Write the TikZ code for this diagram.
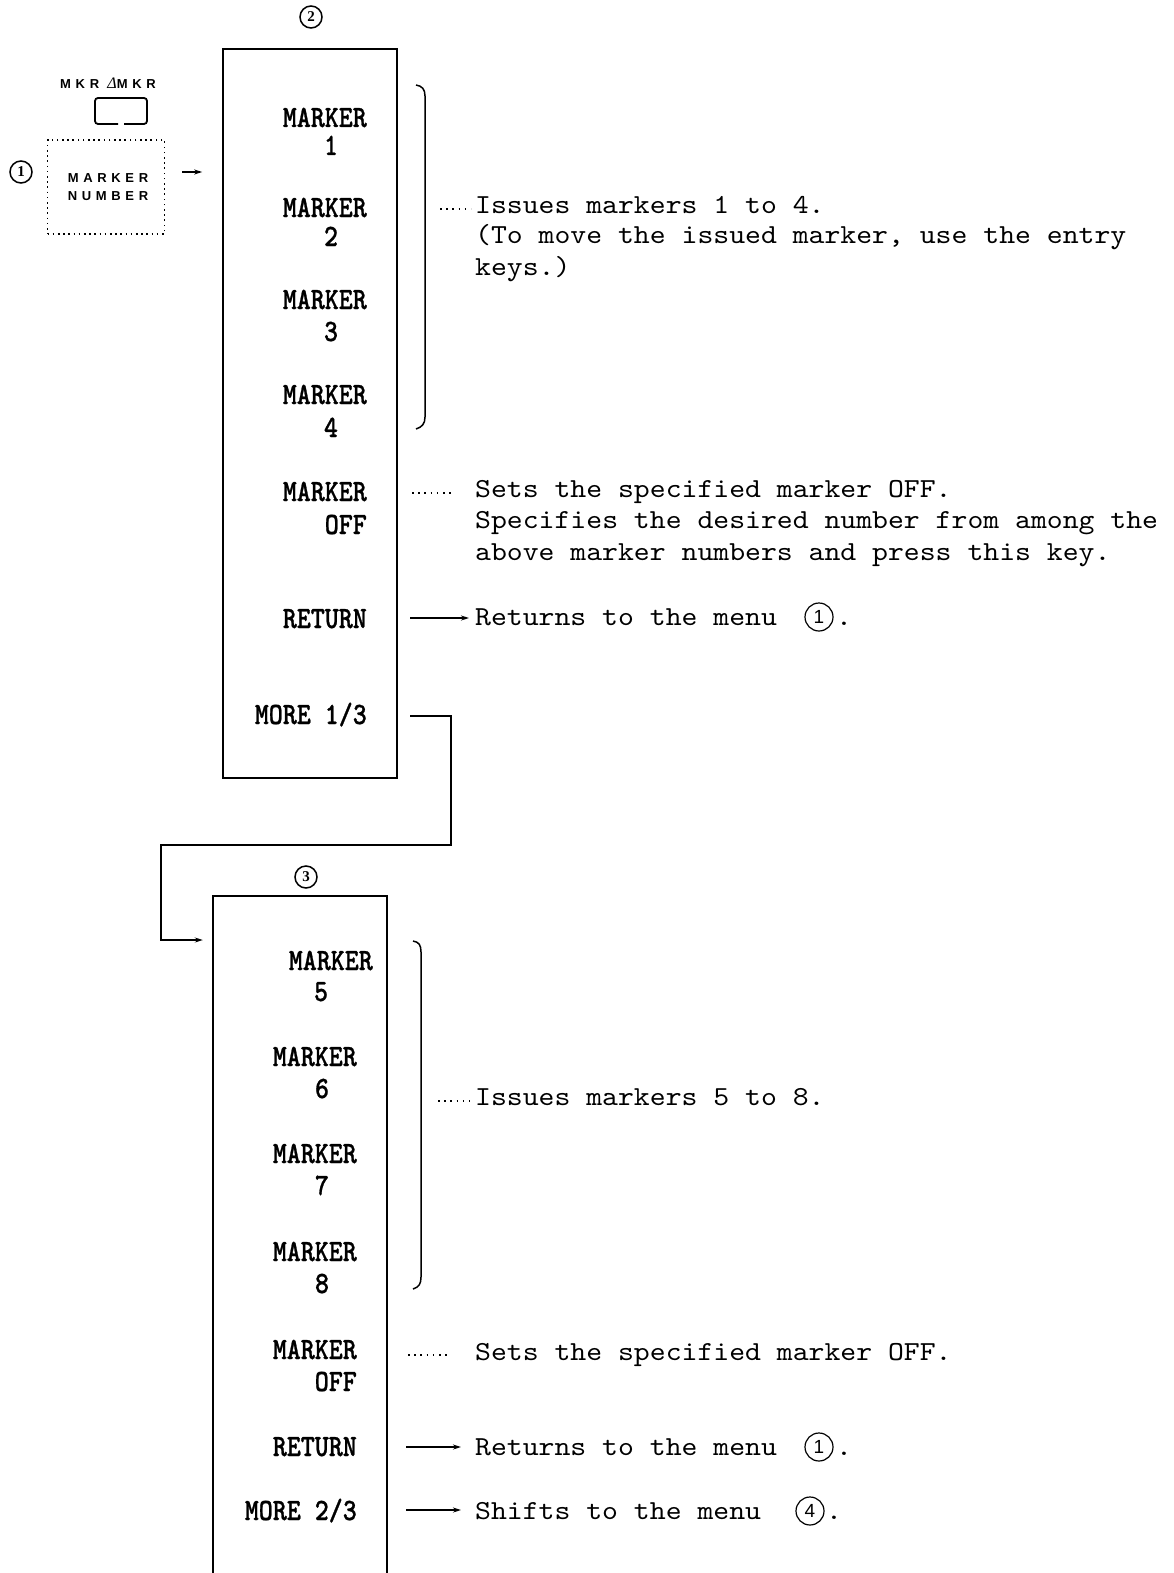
\documentclass[tikz,border=0pt]{standalone}
\usepackage{fontspec}
\usetikzlibrary{arrows.meta}
\newfontfamily\monofont{lmmono10-regular.otf}[FakeStretch=1.1]
\newfontfamily\keyfont{lmmonolt10-bold.otf}[FakeStretch=0.86,FakeBold=0.8]
\newfontfamily\tagfont{Liberation Sans}[LetterSpace=36]
\newfontfamily\lserif{Liberation Serif}
\newfontfamily\lsans{Liberation Sans}
\begin{document}
\begin{tikzpicture}[x=1pt,y=-1pt,
  desc/.style={anchor=base west, inner sep=0pt, font=\monofont\fontsize{27.5}{32}\selectfont},
  key/.style={inner sep=0pt, font=\keyfont\fontsize{31}{34}\selectfont},
  keyr/.style={key, anchor=base east},
  keyc/.style={key, anchor=base},
  boxline/.style={line width=1.6pt},
  arr/.style={line width=1.4pt, -{Stealth[length=8pt,width=5pt]}},
  leader/.style={line width=1.7pt, dash pattern=on 1.6pt off 4.6pt},
  circnum/.style={circle, draw, line width=1.5pt, inner sep=0pt, minimum size=22pt, font=\lserif\bfseries\fontsize{15}{15}\selectfont},
  circtxt/.style={circle, draw, line width=1.2pt, inner sep=0pt, minimum size=28pt, font=\lsans\fontsize{19}{19}\selectfont},
  tag/.style={inner sep=0pt, font=\tagfont\bfseries\fontsize{13}{13}\selectfont},
  bracketline/.style={line width=1.5pt}
]
\useasboundingbox (0,0) rectangle (1174,1573);
\fill[white] (0,0) rectangle (1174,1573);
\clip (0,0) rectangle (1174,1573);

% ---------- top left: key and menu 1 ----------
\node[tag] (mkrlbl) at (108,83) {MKR {\lserif\mdseries\itshape\fontsize{16}{16}\selectfont Δ}MKR};
\draw[line width=1.8pt, rounded corners=3pt] (118,124) -- (95,124) -- (95,98) -- (147,98) -- (147,124) -- (124,124);
\node[draw, line width=1.8pt, dash pattern=on 1.6pt off 3.6pt, minimum width=117, minimum height=94, inner sep=0pt] (tagbox) at (106,187) {};
\node[tag] (tag1) at (108,178) {MARKER};
\node[tag] (tag2) at (108,196) {NUMBER};
\node[circnum] (c1) at (21,172) {1};

% ---------- menu 2 ----------
\node[circnum] (c2) at (311,17) {2};
\node[draw, boxline, minimum width=174, minimum height=729, inner sep=0pt] (box2) at (310,413.5) {};
\draw[arr] ([xshift=17pt,yshift=15pt]tagbox.east) -- ([xshift=-20pt,yshift=15pt]tagbox.east -| box2.west);

\node[keyr] (k1) at (367,127) {MARKER};
\node[keyc] (k1n) at (331,155) {1};
\node[keyr] (k2) at (367,217) {MARKER};
\node[keyc] (k2n) at (331,246) {2};
\node[keyr] (k3) at (367,309) {MARKER};
\node[keyc] (k3n) at (331,341) {3};
\node[keyr] (k4) at (367,404) {MARKER};
\node[keyc] (k4n) at (331,437) {4};
\node[keyr] (koff) at (367,501) {MARKER};
\node[keyr] (koffb) at (367,534) {OFF};
\node[keyr] (kret) at (367,628) {RETURN};
\node[keyr] (kmore) at (367,724) {MORE 1/3};

\draw[bracketline] (416,85) .. controls (422,86) and (425,89) .. (425,96) -- (425,417) .. controls (425,424) and (422,427) .. (416,429);

\coordinate (l1a) at (440,209);
\node[desc] (d1) at (475,213) {Issues markers 1 to 4.};
\draw[leader] (l1a) -- ([xshift=-4pt]l1a -| d1.west);
\node[desc] (d2) at (475,243) {(To move the issued marker, use the entry};
\node[desc] (d3) at (475,275) {keys.)};

\coordinate (l2a) at (412,493);
\node[desc] (d4) at (475,497) {Sets the specified marker OFF.};
\draw[leader] (l2a) -- ([xshift=-24pt]l2a -| d4.west);
\node[desc] (d5) at (475,528) {Specifies the desired number from among the};
\node[desc] (d6) at (475,560) {above marker numbers and press this key.};

\coordinate (a1) at (410,618);
\node[desc] (d7) at (475,625) {Returns to the menu};
\draw[arr, shorten >=6pt] (a1) -- (a1 -| d7.west);
\node[circtxt] (r1) at (819,617) {1};
\node[desc] (d7p) at (836,625) {.};

% ---------- connector MORE 1/3 -> menu 3 ----------
\node[draw=none, minimum width=174, minimum height=704, inner sep=0pt] (box3) at (300,1248) {};
\coordinate (m1s) at (410,716);
\coordinate (j) at (161,940);
\draw[line width=1.5pt, -{Stealth[length=8pt,width=5pt]}, shorten >=10pt] (m1s) -| (451,845) -| (j) -- (j -| box3.west);

% ---------- menu 3 ----------
\node[circnum] (c3) at (306,877) {3};
\draw[boxline] (box3.south west) -- (box3.north west) -- (box3.north east) -- (box3.south east);

\node[keyr] (k5) at (373,970) {MARKER};
\node[keyc] (k5n) at (321,1001) {5};
\node[keyr] (k6) at (357,1066) {MARKER};
\node[keyc] (k6n) at (322,1098) {6};
\node[keyr] (k7) at (357,1163) {MARKER};
\node[keyc] (k7n) at (322,1195) {7};
\node[keyr] (k8) at (357,1261) {MARKER};
\node[keyc] (k8n) at (322,1293) {8};
\node[keyr] (koff2) at (357,1359) {MARKER};
\node[keyr] (koff2b) at (357,1391) {OFF};
\node[keyr] (kret2) at (357,1456) {RETURN};
\node[keyr] (kmore2) at (357,1520) {MORE 2/3};

\draw[bracketline] (413,941) .. controls (419,942) and (421,945) .. (421,952) -- (421,1277) .. controls (421,1284) and (419,1287) .. (413,1289);

\coordinate (l3a) at (438,1101);
\node[desc] (d8) at (475,1105) {Issues markers 5 to 8.};
\draw[leader] (l3a) -- ([xshift=-5pt]l3a -| d8.west);

\coordinate (l4a) at (408,1355);
\node[desc] (d9) at (475,1360) {Sets the specified marker OFF.};
\draw[leader] (l4a) -- ([xshift=-25pt]l4a -| d9.west);

\coordinate (a2) at (406,1447);
\node[desc] (d10) at (475,1455) {Returns to the menu};
\draw[arr, shorten >=14pt] (a2) -- (a2 -| d10.west);
\node[circtxt] (r2) at (819,1447) {1};
\node[desc] (d10p) at (836,1455) {.};

\coordinate (a3) at (406,1510);
\node[desc] (d11) at (475,1519) {Shifts to the menu};
\draw[arr, shorten >=14pt] (a3) -- (a3 -| d11.west);
\node[circtxt] (r3) at (810,1511) {4};
\node[desc] (d11p) at (826,1519) {.};
\end{tikzpicture}
\end{document}
